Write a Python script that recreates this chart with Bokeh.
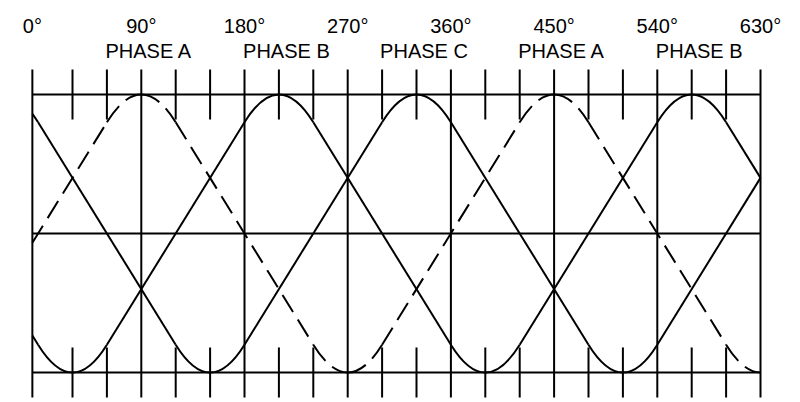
from bokeh.plotting import figure
from bokeh.models import Range1d
from bokeh.core.properties import value
from bokeh.embed import file_html
from bokeh.resources import INLINE

# ---------------- data ----------------
deg_ticks = [0, 90, 180, 270, 360, 450, 540, 630]
deg_labels = ["0°", "90°", "180°", "270°", "360°", "450°", "540°", "630°"]
minor_ticks = [30, 60, 120, 150, 210, 240, 300, 330, 390, 420, 480, 510, 570, 600]
phase_labels = ["PHASE A", "PHASE B", "PHASE C", "PHASE A", "PHASE B"]
phase_label_deg = [90, 210, 330, 450, 570]

# peak (+1) and trough (-1) angles of each trapezoidal phase wave
phase_a_peaks = [90, 450]
phase_a_troughs = [-90, 270, 630]
phase_b_peaks = [-150, 210, 570]
phase_b_troughs = [30, 390, 750]
phase_c_peaks = [-30, 330, 690]
phase_c_troughs = [150, 510]

# ---------------- shape / layout constants ----------------
X_LEFT, X_RIGHT = -5.0, 630.0      # drawing border (deg)
SHOULDER = 0.8                      # level where the rounded cap meets the ramp
ROUND = 30.0                        # half width of rounded cap (deg)
CORNER = 15.0                       # trapezoid corner offset from the peak (deg)
TICK = 0.18

PX_PER_DEG = 722.4 / 630.0
PX_PER_UNIT = 139.0
W, H = 800, 400
x0 = -37.6 / PX_PER_DEG
x1 = x0 + W / PX_PER_DEG
ytop = 1 + 94 / PX_PER_UNIT
ybot = ytop - H / PX_PER_UNIT

p = figure(width=W, height=H, x_range=Range1d(x0, x1), y_range=Range1d(ybot, ytop),
           output_backend="svg", toolbar_location=None, min_border=0,
           x_axis_type=None, y_axis_type=None, outline_line_color=None)
p.grid.visible = False
p.background_fill_color = "white"
p.border_fill_color = "white"

LW = 2
BLACK = "black"

# horizontal lines
p.segment(x0=[X_LEFT] * 3, y0=[1, 0, -1], x1=[X_RIGHT] * 3, y1=[1, 0, -1],
          line_color=BLACK, line_width=LW)
# major verticals
major_x = [X_LEFT] + deg_ticks[1:]
p.segment(x0=major_x, y0=[-1 - TICK] * len(major_x), x1=major_x, y1=[1 + TICK] * len(major_x),
          line_color=BLACK, line_width=LW)
# minor ticks top and bottom
p.segment(x0=minor_ticks, y0=[1 - TICK] * len(minor_ticks), x1=minor_ticks,
          y1=[1 + TICK] * len(minor_ticks), line_color=BLACK, line_width=LW)
p.segment(x0=minor_ticks, y0=[-1 - TICK] * len(minor_ticks), x1=minor_ticks,
          y1=[-1 + TICK] * len(minor_ticks), line_color=BLACK, line_width=LW)


def build(peaks, troughs):
    ext = sorted([(a, 1.0) for a in peaks] + [(a, -1.0) for a in troughs])
    segs, quads = [], []
    for (a1, l1), (a2, l2) in zip(ext, ext[1:]):
        sx0, sy0, sx1, sy1 = a1 + ROUND, SHOULDER * l1, a2 - ROUND, SHOULDER * l2
        if sx1 <= X_LEFT or sx0 >= X_RIGHT:
            continue
        if sx0 < X_LEFT:
            t = (X_LEFT - sx0) / (sx1 - sx0)
            sx0, sy0 = X_LEFT, sy0 + t * (sy1 - sy0)
        if sx1 > X_RIGHT:
            t = (X_RIGHT - sx0) / (sx1 - sx0)
            sx1, sy1 = X_RIGHT, sy0 + t * (sy1 - sy0)
        segs.append((sx0, sy0, sx1, sy1))
    for a, l in ext:
        for q in ((a - ROUND, SHOULDER * l, a - CORNER, l, a, l),
                  (a, l, a + CORNER, l, a + ROUND, SHOULDER * l)):
            qx0, qy0, cx, cy, qx1, qy1 = q
            if qx1 <= X_LEFT or qx0 >= X_RIGHT:
                continue
            if qx0 < X_LEFT:
                t = (X_LEFT - qx0) / (qx1 - qx0)
                bx = (1 - t) ** 2 * qx0 + 2 * (1 - t) * t * cx + t * t * qx1
                by = (1 - t) ** 2 * qy0 + 2 * (1 - t) * t * cy + t * t * qy1
                cx, cy = (1 - t) * cx + t * qx1, (1 - t) * cy + t * qy1
                qx0, qy0 = bx, by
            if qx1 > X_RIGHT:
                t = (X_RIGHT - qx0) / (qx1 - qx0)
                bx = (1 - t) ** 2 * qx0 + 2 * (1 - t) * t * cx + t * t * qx1
                by = (1 - t) ** 2 * qy0 + 2 * (1 - t) * t * cy + t * t * qy1
                cx, cy = (1 - t) * qx0 + t * cx, (1 - t) * qy0 + t * cy
                qx1, qy1 = bx, by
            quads.append((qx0, qy0, qx1, qy1, cx, cy))
    return segs, quads


for peaks, troughs, dash in ((phase_a_peaks, phase_a_troughs, "20 9"),
                             (phase_b_peaks, phase_b_troughs, "solid"),
                             (phase_c_peaks, phase_c_troughs, "solid")):
    segs, quads = build(peaks, troughs)
    p.segment(x0=[s[0] for s in segs], y0=[s[1] for s in segs],
              x1=[s[2] for s in segs], y1=[s[3] for s in segs],
              line_color=BLACK, line_width=LW, line_dash=dash)
    p.quadratic(x0=[q[0] for q in quads], y0=[q[1] for q in quads],
                x1=[q[2] for q in quads], y1=[q[3] for q in quads],
                cx=[q[4] for q in quads], cy=[q[5] for q in quads],
                line_color=BLACK, line_width=LW, line_dash=dash)

# texts
label_x = [X_LEFT if d == 0 else d for d in deg_ticks]
p.text(x=label_x, y=[1.496] * len(label_x), text=deg_labels,
       text_font=value("Liberation Sans"), text_font_size="20px",
       text_align="center", text_baseline="alphabetic", text_color=BLACK)
p.text(x=phase_label_deg, y=[1.313] * len(phase_label_deg), text=phase_labels,
       text_font=value("Liberation Sans"), text_font_size="20px",
       text_align="center", text_baseline="alphabetic", text_color=BLACK,
       x_offset=7.5)

open("out.html", "w").write(file_html(p, INLINE))
